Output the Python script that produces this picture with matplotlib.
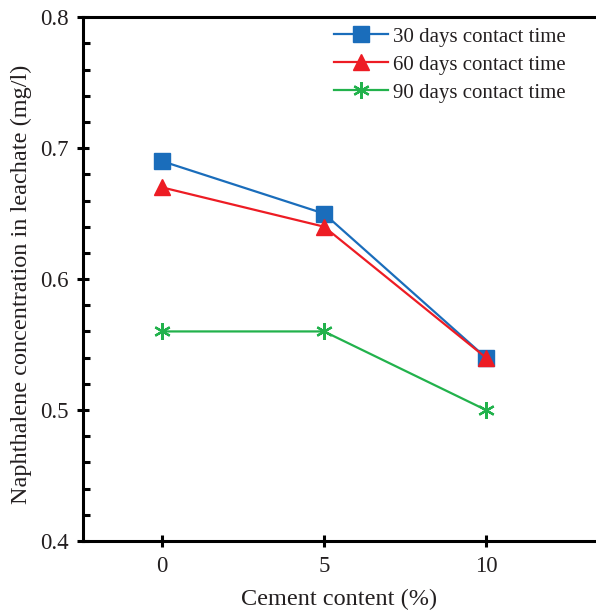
import matplotlib.pyplot as plt
from matplotlib.ticker import MultipleLocator

cement = [0, 5, 10]
days30 = [0.69, 0.65, 0.54]
days60 = [0.67, 0.64, 0.54]
days90 = [0.56, 0.56, 0.50]
labels = ['30 days contact time', '60 days contact time', '90 days contact time']

plt.rcParams['font.family'] = 'Liberation Serif'
txt = '#231f20'

fig = plt.figure(figsize=(5.96, 6.14), dpi=100)
ax = fig.add_axes([0.139, 0.119, 0.861, 0.853])

ax.plot(cement, days30, color='#1a6dbb', lw=1.6, marker='s', ms=11.5, label=labels[0])
ax.plot(cement, days60, color='#ed1c24', lw=1.6, marker='^', ms=11.5, label=labels[1])
ax.plot(cement, days90, color='#22b24c', lw=1.6, marker=(6, 2, 0), ms=12, mew=1.6, label=labels[2])

ax.set_xlim(-2.45, 13.4)
ax.set_ylim(0.4, 0.8)
ax.set_xticks(cement)
ax.yaxis.set_major_locator(MultipleLocator(0.1))
ax.yaxis.set_minor_locator(MultipleLocator(0.02))
ax.tick_params(axis='both', which='major', direction='inout', length=9, width=2.2,
               labelsize=16.5, colors='black', labelcolor=txt, pad=6)
ax.tick_params(axis='y', which='minor', direction='in', length=5, width=2.2)
for s in ['left', 'bottom', 'top']:
    ax.spines[s].set_linewidth(2.2)
ax.spines['right'].set_visible(False)

ax.set_xlabel('Cement content (%)', fontsize=17.5, color=txt, labelpad=9)
ax.set_ylabel('Naphthalene concentration in leachate (mg/l)', fontsize=17.5, color=txt)
ax.yaxis.set_label_coords(-0.1, 0.49)

leg = ax.legend(loc='upper right', bbox_to_anchor=(1 - 30 / 513, 1 - 10 / 524), frameon=False,
                fontsize=15, handlelength=2.6, handletextpad=0.25, labelspacing=0.4,
                borderaxespad=0, borderpad=0)
for t in leg.get_texts():
    t.set_color(txt)

fig.savefig('out.png', dpi=100)
